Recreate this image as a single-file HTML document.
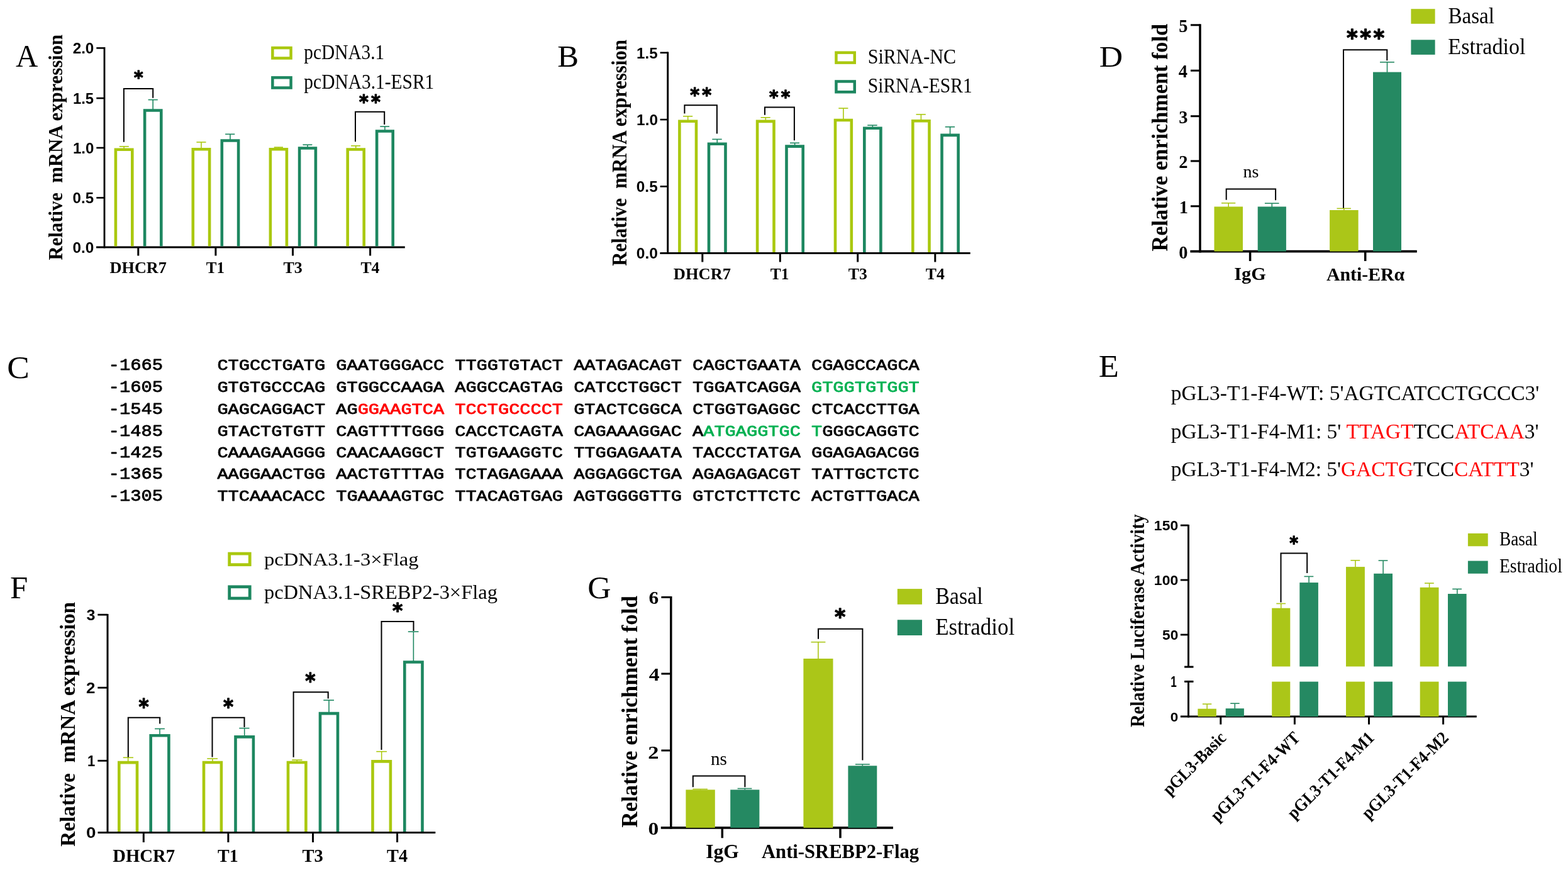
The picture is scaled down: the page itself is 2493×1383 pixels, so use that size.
<!DOCTYPE html>
<html><head><meta charset="utf-8"><title>Figure</title>
<style>html,body{margin:0;padding:0;background:#fff;width:2493px;height:1383px;overflow:hidden}svg{display:block}</style>
</head><body>
<svg width="2493" height="1383" viewBox="0 0 2493 1383">
<rect width="2493" height="1383" fill="#fff"/>
<text transform="translate(24.91,106.2) scale(0.9847,1)" font-family="&quot;Liberation Serif&quot;, serif" font-weight="normal" font-size="49.7" fill="#000">A</text>
<text transform="translate(99.2,413.54) rotate(-90) scale(0.9495,1)" font-family="&quot;Liberation Serif&quot;, serif" font-weight="bold" font-size="32.37" fill="#000" xml:space="preserve">Relative  mRNA expression</text>
<text transform="translate(115.65,84.96) scale(1.0096,1)" font-family="&quot;Liberation Sans&quot;, sans-serif" font-weight="bold" font-size="24.03" fill="#000">2.0</text>
<text transform="translate(115.91,164.66) scale(0.9784,1)" font-family="&quot;Liberation Sans&quot;, sans-serif" font-weight="bold" font-size="24.37" fill="#000">1.5</text>
<text transform="translate(115.9,243.56) scale(1.0021,1)" font-family="&quot;Liberation Sans&quot;, sans-serif" font-weight="bold" font-size="24.03" fill="#000">1.0</text>
<text transform="translate(115.54,322.96) scale(1.0039,1)" font-family="&quot;Liberation Sans&quot;, sans-serif" font-weight="bold" font-size="24.03" fill="#000">0.5</text>
<text transform="translate(115.53,401.66) scale(1.0134,1)" font-family="&quot;Liberation Sans&quot;, sans-serif" font-weight="bold" font-size="24.03" fill="#000">0.0</text>
<line x1="166" y1="75" x2="166" y2="394.5" stroke="#000" stroke-width="2.8" stroke-linecap="butt"/>
<line x1="153" y1="393" x2="643.8" y2="393" stroke="#000" stroke-width="3" stroke-linecap="butt"/>
<line x1="153.3" y1="76.4" x2="166" y2="76.4" stroke="#000" stroke-width="2.6" stroke-linecap="butt"/>
<line x1="153.3" y1="156.1" x2="166" y2="156.1" stroke="#000" stroke-width="2.6" stroke-linecap="butt"/>
<line x1="153.3" y1="235" x2="166" y2="235" stroke="#000" stroke-width="2.6" stroke-linecap="butt"/>
<line x1="153.3" y1="314.4" x2="166" y2="314.4" stroke="#000" stroke-width="2.6" stroke-linecap="butt"/>
<line x1="219.8" y1="393" x2="219.8" y2="406.5" stroke="#000" stroke-width="3" stroke-linecap="butt"/>
<line x1="342.9" y1="393" x2="342.9" y2="406.5" stroke="#000" stroke-width="3" stroke-linecap="butt"/>
<line x1="465.5" y1="393" x2="465.5" y2="406.5" stroke="#000" stroke-width="3" stroke-linecap="butt"/>
<line x1="588.6" y1="393" x2="588.6" y2="406.5" stroke="#000" stroke-width="3" stroke-linecap="butt"/>
<text transform="translate(174.54,434.2) scale(1.0053,1)" font-family="&quot;Liberation Serif&quot;, serif" font-weight="bold" font-size="26.11" fill="#000">DHCR7</text>
<text transform="translate(327.73,434.2) scale(0.9576,1)" font-family="&quot;Liberation Serif&quot;, serif" font-weight="bold" font-size="26.11" fill="#000">T1</text>
<text transform="translate(450.41,434.2) scale(1.0009,1)" font-family="&quot;Liberation Serif&quot;, serif" font-weight="bold" font-size="26.11" fill="#000">T3</text>
<text transform="translate(573.42,434.2) scale(0.9821,1)" font-family="&quot;Liberation Serif&quot;, serif" font-weight="bold" font-size="26.11" fill="#000">T4</text>
<line x1="197.1" y1="236.4" x2="197.1" y2="232.8" stroke="#AAC80F" stroke-width="1.6" stroke-linecap="butt"/>
<line x1="189.8" y1="232.8" x2="204.8" y2="232.8" stroke="#AAC80F" stroke-width="1.6" stroke-linecap="butt"/>
<path d="M183.9 391.5V237.7H210.3V391.5" stroke="#AAC80F" stroke-width="4.6" fill="none" stroke-linejoin="miter"/>
<line x1="243.2" y1="174.2" x2="243.2" y2="158.6" stroke="#1D8760" stroke-width="1.6" stroke-linecap="butt"/>
<line x1="235.6" y1="158.6" x2="250.8" y2="158.6" stroke="#1D8760" stroke-width="1.6" stroke-linecap="butt"/>
<path d="M230.1 391.5V175.5H256.3V391.5" stroke="#1D8760" stroke-width="4.6" fill="none" stroke-linejoin="miter"/>
<line x1="319.95" y1="236" x2="319.95" y2="226" stroke="#AAC80F" stroke-width="1.6" stroke-linecap="butt"/>
<line x1="312.4" y1="226" x2="327.5" y2="226" stroke="#AAC80F" stroke-width="1.6" stroke-linecap="butt"/>
<path d="M306.8 391.5V237.3H333.1V391.5" stroke="#AAC80F" stroke-width="4.6" fill="none" stroke-linejoin="miter"/>
<line x1="365.95" y1="222.2" x2="365.95" y2="213.3" stroke="#1D8760" stroke-width="1.6" stroke-linecap="butt"/>
<line x1="358.1" y1="213.3" x2="373.3" y2="213.3" stroke="#1D8760" stroke-width="1.6" stroke-linecap="butt"/>
<path d="M352.8 391.5V223.5H379.1V391.5" stroke="#1D8760" stroke-width="4.6" fill="none" stroke-linejoin="miter"/>
<line x1="442.9" y1="236" x2="442.9" y2="234.1" stroke="#AAC80F" stroke-width="1.6" stroke-linecap="butt"/>
<line x1="435.7" y1="234.1" x2="450" y2="234.1" stroke="#AAC80F" stroke-width="1.6" stroke-linecap="butt"/>
<path d="M429.9 391.5V237.3H455.9V391.5" stroke="#AAC80F" stroke-width="4.6" fill="none" stroke-linejoin="miter"/>
<line x1="489" y1="234.2" x2="489" y2="230.2" stroke="#1D8760" stroke-width="1.6" stroke-linecap="butt"/>
<line x1="481.4" y1="230.2" x2="496.4" y2="230.2" stroke="#1D8760" stroke-width="1.6" stroke-linecap="butt"/>
<path d="M476.1 391.5V235.5H501.9V391.5" stroke="#1D8760" stroke-width="4.6" fill="none" stroke-linejoin="miter"/>
<line x1="565.7" y1="236.2" x2="565.7" y2="231.8" stroke="#AAC80F" stroke-width="1.6" stroke-linecap="butt"/>
<line x1="558.1" y1="231.8" x2="573" y2="231.8" stroke="#AAC80F" stroke-width="1.6" stroke-linecap="butt"/>
<path d="M552.7 391.5V237.5H578.7V391.5" stroke="#AAC80F" stroke-width="4.6" fill="none" stroke-linejoin="miter"/>
<line x1="611.9" y1="207.2" x2="611.9" y2="201.1" stroke="#1D8760" stroke-width="1.6" stroke-linecap="butt"/>
<line x1="604.3" y1="201.1" x2="619.1" y2="201.1" stroke="#1D8760" stroke-width="1.6" stroke-linecap="butt"/>
<path d="M599.1 391.5V208.5H624.7V391.5" stroke="#1D8760" stroke-width="4.6" fill="none" stroke-linejoin="miter"/>
<path d="M196.9 225.8V140.9H243.2V155.8" stroke="#000" stroke-width="2" fill="none" stroke-linejoin="miter"/>
<text transform="translate(212.89,132.99) scale(1.0089,1)" font-family="&quot;DejaVu Sans&quot;, sans-serif" font-weight="bold" font-size="27.53" letter-spacing="0" stroke="#000" stroke-width="1.3" stroke-linejoin="round">*</text>
<path d="M565 225.3V177.8H611.2V197.9" stroke="#000" stroke-width="2" fill="none" stroke-linejoin="miter"/>
<text transform="translate(570.88,171.73) scale(0.9637,1)" font-family="&quot;DejaVu Sans&quot;, sans-serif" font-weight="bold" font-size="29.46" letter-spacing="4.51" stroke="#000" stroke-width="1.3" stroke-linejoin="round">**</text>
<rect x="433.35" y="76.05" width="29.2" height="16.4" fill="none" stroke="#AAC80F" stroke-width="4.5"/>
<rect x="433.35" y="123.35" width="29.2" height="16.2" fill="none" stroke="#1D8760" stroke-width="4.5"/>
<text transform="translate(483.36,93.7) scale(0.8855,1)" font-family="&quot;Liberation Serif&quot;, serif" font-weight="normal" font-size="33.13" fill="#000">pcDNA3.1</text>
<text transform="translate(483.36,141.1) scale(0.8891,1)" font-family="&quot;Liberation Serif&quot;, serif" font-weight="normal" font-size="33.13" fill="#000">pcDNA3.1-ESR1</text>
<text transform="translate(886.21,106.48) scale(1.0284,1)" font-family="&quot;Liberation Serif&quot;, serif" font-weight="normal" font-size="49.28" fill="#000">B</text>
<text transform="translate(996.1,422.84) rotate(-90) scale(0.9302,1)" font-family="&quot;Liberation Serif&quot;, serif" font-weight="bold" font-size="33.13" fill="#000" xml:space="preserve">Relative  mRNA expression</text>
<text transform="translate(1012.09,92.51) scale(0.9969,1)" font-family="&quot;Liberation Sans&quot;, sans-serif" font-weight="bold" font-size="24.23" fill="#000">1.5</text>
<text transform="translate(1012.08,198.81) scale(1.0210,1)" font-family="&quot;Liberation Sans&quot;, sans-serif" font-weight="bold" font-size="23.89" fill="#000">1.0</text>
<text transform="translate(1011.83,305.11) scale(1.0193,1)" font-family="&quot;Liberation Sans&quot;, sans-serif" font-weight="bold" font-size="23.89" fill="#000">0.5</text>
<text transform="translate(1011.82,411.11) scale(1.0290,1)" font-family="&quot;Liberation Sans&quot;, sans-serif" font-weight="bold" font-size="23.89" fill="#000">0.0</text>
<line x1="1061.7" y1="82.5" x2="1061.7" y2="404" stroke="#000" stroke-width="3" stroke-linecap="butt"/>
<line x1="1049.4" y1="402.6" x2="1542.7" y2="402.6" stroke="#000" stroke-width="3" stroke-linecap="butt"/>
<line x1="1049.6" y1="83.8" x2="1061.7" y2="83.8" stroke="#000" stroke-width="2.6" stroke-linecap="butt"/>
<line x1="1049.6" y1="190.1" x2="1061.7" y2="190.1" stroke="#000" stroke-width="2.6" stroke-linecap="butt"/>
<line x1="1049.6" y1="296.4" x2="1061.7" y2="296.4" stroke="#000" stroke-width="2.6" stroke-linecap="butt"/>
<line x1="1116.8" y1="402.6" x2="1116.8" y2="416.5" stroke="#000" stroke-width="3" stroke-linecap="butt"/>
<line x1="1240.3" y1="402.6" x2="1240.3" y2="416.5" stroke="#000" stroke-width="3" stroke-linecap="butt"/>
<line x1="1363.7" y1="402.6" x2="1363.7" y2="416.5" stroke="#000" stroke-width="3" stroke-linecap="butt"/>
<line x1="1486.8" y1="402.6" x2="1486.8" y2="416.5" stroke="#000" stroke-width="3" stroke-linecap="butt"/>
<text transform="translate(1070.84,443.8) scale(1.0143,1)" font-family="&quot;Liberation Serif&quot;, serif" font-weight="bold" font-size="26.11" fill="#000">DHCR7</text>
<text transform="translate(1224.82,443.8) scale(0.9750,1)" font-family="&quot;Liberation Serif&quot;, serif" font-weight="bold" font-size="26.11" fill="#000">T1</text>
<text transform="translate(1348.71,443.8) scale(0.9872,1)" font-family="&quot;Liberation Serif&quot;, serif" font-weight="bold" font-size="26.11" fill="#000">T3</text>
<text transform="translate(1471.81,443.8) scale(0.9854,1)" font-family="&quot;Liberation Serif&quot;, serif" font-weight="bold" font-size="26.11" fill="#000">T4</text>
<line x1="1093.7" y1="191.4" x2="1093.7" y2="184.8" stroke="#AAC80F" stroke-width="1.6" stroke-linecap="butt"/>
<line x1="1086" y1="184.8" x2="1101.2" y2="184.8" stroke="#AAC80F" stroke-width="1.6" stroke-linecap="butt"/>
<path d="M1080.4 401V192.7H1107V401" stroke="#AAC80F" stroke-width="4.6" fill="none" stroke-linejoin="miter"/>
<line x1="1140.25" y1="227.5" x2="1140.25" y2="221.4" stroke="#1D8760" stroke-width="1.6" stroke-linecap="butt"/>
<line x1="1132.3" y1="221.4" x2="1147.7" y2="221.4" stroke="#1D8760" stroke-width="1.6" stroke-linecap="butt"/>
<path d="M1127 401V228.8H1153.5V401" stroke="#1D8760" stroke-width="4.6" fill="none" stroke-linejoin="miter"/>
<line x1="1217.3" y1="191.6" x2="1217.3" y2="186.8" stroke="#AAC80F" stroke-width="1.6" stroke-linecap="butt"/>
<line x1="1209.5" y1="186.8" x2="1224.7" y2="186.8" stroke="#AAC80F" stroke-width="1.6" stroke-linecap="butt"/>
<path d="M1204.1 401V192.9H1230.5V401" stroke="#AAC80F" stroke-width="4.6" fill="none" stroke-linejoin="miter"/>
<line x1="1263.6" y1="231.3" x2="1263.6" y2="227.3" stroke="#1D8760" stroke-width="1.6" stroke-linecap="butt"/>
<line x1="1256" y1="227.3" x2="1271" y2="227.3" stroke="#1D8760" stroke-width="1.6" stroke-linecap="butt"/>
<path d="M1250.5 401V232.6H1276.7V401" stroke="#1D8760" stroke-width="4.6" fill="none" stroke-linejoin="miter"/>
<line x1="1340.9" y1="189.7" x2="1340.9" y2="172.1" stroke="#AAC80F" stroke-width="1.6" stroke-linecap="butt"/>
<line x1="1333.3" y1="172.1" x2="1348.4" y2="172.1" stroke="#AAC80F" stroke-width="1.6" stroke-linecap="butt"/>
<path d="M1328 401V191H1353.8V401" stroke="#AAC80F" stroke-width="4.6" fill="none" stroke-linejoin="miter"/>
<line x1="1387.35" y1="202.4" x2="1387.35" y2="199.1" stroke="#1D8760" stroke-width="1.6" stroke-linecap="butt"/>
<line x1="1379.2" y1="199.1" x2="1394.7" y2="199.1" stroke="#1D8760" stroke-width="1.6" stroke-linecap="butt"/>
<path d="M1374.3 401V203.7H1400.4V401" stroke="#1D8760" stroke-width="4.6" fill="none" stroke-linejoin="miter"/>
<line x1="1464.4" y1="190.9" x2="1464.4" y2="181.9" stroke="#AAC80F" stroke-width="1.6" stroke-linecap="butt"/>
<line x1="1456.5" y1="181.9" x2="1471.8" y2="181.9" stroke="#AAC80F" stroke-width="1.6" stroke-linecap="butt"/>
<path d="M1451.3 401V192.2H1477.5V401" stroke="#AAC80F" stroke-width="4.6" fill="none" stroke-linejoin="miter"/>
<line x1="1510.55" y1="213.6" x2="1510.55" y2="201.7" stroke="#1D8760" stroke-width="1.6" stroke-linecap="butt"/>
<line x1="1502.7" y1="201.7" x2="1518.1" y2="201.7" stroke="#1D8760" stroke-width="1.6" stroke-linecap="butt"/>
<path d="M1497.5 401V214.9H1523.6V401" stroke="#1D8760" stroke-width="4.6" fill="none" stroke-linejoin="miter"/>
<path d="M1088.4 180.5V167.3H1139.9V212.6" stroke="#000" stroke-width="2" fill="none" stroke-linejoin="miter"/>
<text transform="translate(1097.18,160.73) scale(0.9637,1)" font-family="&quot;DejaVu Sans&quot;, sans-serif" font-weight="bold" font-size="29.46" letter-spacing="4.41" stroke="#000" stroke-width="1.3" stroke-linejoin="round">**</text>
<path d="M1216 182.8V170.6H1262.9V223.3" stroke="#000" stroke-width="2" fill="none" stroke-linejoin="miter"/>
<text transform="translate(1222.99,163.55) scale(0.9637,1)" font-family="&quot;DejaVu Sans&quot;, sans-serif" font-weight="bold" font-size="28.82" letter-spacing="4.33" stroke="#000" stroke-width="1.3" stroke-linejoin="round">**</text>
<rect x="1329.45" y="83.65" width="29.3" height="16" fill="none" stroke="#AAC80F" stroke-width="4.5"/>
<rect x="1329.45" y="129.45" width="29.3" height="16.8" fill="none" stroke="#1D8760" stroke-width="4.5"/>
<text transform="translate(1379.67,101.27) scale(0.9152,1)" font-family="&quot;Liberation Serif&quot;, serif" font-weight="normal" font-size="32.86" fill="#000">SiRNA-NC</text>
<text transform="translate(1379.7,147.47) scale(0.9051,1)" font-family="&quot;Liberation Serif&quot;, serif" font-weight="normal" font-size="32.71" fill="#000">SiRNA-ESR1</text>
<text transform="translate(1747.68,105.78) scale(1.0907,1)" font-family="&quot;Liberation Serif&quot;, serif" font-weight="normal" font-size="47.45" fill="#000">D</text>
<text transform="translate(1856.3,399.4) rotate(-90) scale(0.9599,1)" font-family="&quot;Liberation Serif&quot;, serif" font-weight="bold" font-size="35.68" fill="#000" xml:space="preserve">Relative enrichment fold</text>
<text transform="translate(1874.22,50.71) scale(0.9871,1)" font-family="&quot;Liberation Serif&quot;, serif" font-weight="bold" font-size="28.87" fill="#000">5</text>
<text transform="translate(1873.65,123.4) scale(0.9760,1)" font-family="&quot;Liberation Serif&quot;, serif" font-weight="bold" font-size="29.2" fill="#000">4</text>
<text transform="translate(1874.15,195.61) scale(0.9982,1)" font-family="&quot;Liberation Serif&quot;, serif" font-weight="bold" font-size="28.55" fill="#000">3</text>
<text transform="translate(1874.36,267.2) scale(0.9834,1)" font-family="&quot;Liberation Serif&quot;, serif" font-weight="bold" font-size="28.98" fill="#000">2</text>
<text transform="translate(1874.65,339) scale(0.9797,1)" font-family="&quot;Liberation Serif&quot;, serif" font-weight="bold" font-size="29.09" fill="#000">1</text>
<text transform="translate(1874.22,410.62) scale(1.0020,1)" font-family="&quot;Liberation Serif&quot;, serif" font-weight="bold" font-size="28.44" fill="#000">0</text>
<line x1="1908" y1="38.2" x2="1908" y2="401.4" stroke="#000" stroke-width="3.5" stroke-linecap="butt"/>
<line x1="1892.4" y1="399.6" x2="2252.8" y2="399.6" stroke="#000" stroke-width="3.6" stroke-linecap="butt"/>
<line x1="1893" y1="39.8" x2="1908" y2="39.8" stroke="#000" stroke-width="3" stroke-linecap="butt"/>
<line x1="1893" y1="112.2" x2="1908" y2="112.2" stroke="#000" stroke-width="3" stroke-linecap="butt"/>
<line x1="1893" y1="184.7" x2="1908" y2="184.7" stroke="#000" stroke-width="3" stroke-linecap="butt"/>
<line x1="1893" y1="256" x2="1908" y2="256" stroke="#000" stroke-width="3" stroke-linecap="butt"/>
<line x1="1893" y1="327.8" x2="1908" y2="327.8" stroke="#000" stroke-width="3" stroke-linecap="butt"/>
<line x1="1987.6" y1="399.6" x2="1987.6" y2="415" stroke="#000" stroke-width="3.5" stroke-linecap="butt"/>
<line x1="2170.7" y1="399.6" x2="2170.7" y2="415" stroke="#000" stroke-width="3.5" stroke-linecap="butt"/>
<text transform="translate(1962.32,445.3) scale(1.0647,1)" font-family="&quot;Liberation Serif&quot;, serif" font-weight="bold" font-size="28.4" fill="#000">IgG</text>
<text transform="translate(2109,446.3) scale(1.0488,1)" font-family="&quot;Liberation Serif&quot;, serif" font-weight="bold" font-size="28.4" fill="#000">Anti-ERα</text>
<rect x="1930.5" y="328.5" width="45.5" height="71.1" fill="#ABC618"/>
<rect x="1999.7" y="328.5" width="45.2" height="71.1" fill="#258962"/>
<rect x="2114.1" y="334" width="45.5" height="65.6" fill="#ABC618"/>
<rect x="2183" y="114.6" width="45" height="285" fill="#258962"/>
<line x1="1953.2" y1="329" x2="1953.2" y2="322.8" stroke="#ABC618" stroke-width="1.6" stroke-linecap="butt"/>
<line x1="1942" y1="322.8" x2="1964.3" y2="322.8" stroke="#ABC618" stroke-width="1.6" stroke-linecap="butt"/>
<line x1="2022.3" y1="329" x2="2022.3" y2="323.2" stroke="#258962" stroke-width="1.6" stroke-linecap="butt"/>
<line x1="2010.9" y1="323.2" x2="2033.6" y2="323.2" stroke="#258962" stroke-width="1.6" stroke-linecap="butt"/>
<line x1="2136.8" y1="334.5" x2="2136.8" y2="331.4" stroke="#ABC618" stroke-width="1.6" stroke-linecap="butt"/>
<line x1="2125.5" y1="331.4" x2="2147.9" y2="331.4" stroke="#ABC618" stroke-width="1.6" stroke-linecap="butt"/>
<line x1="2205.5" y1="115" x2="2205.5" y2="98.8" stroke="#258962" stroke-width="1.6" stroke-linecap="butt"/>
<line x1="2194" y1="98.8" x2="2216.9" y2="98.8" stroke="#258962" stroke-width="1.6" stroke-linecap="butt"/>
<path d="M1949.7 317.7V300.5H2028.1V318.3" stroke="#000" stroke-width="2" fill="none" stroke-linejoin="miter"/>
<text transform="translate(1976.47,282.32) scale(0.9981,1)" font-family="&quot;Liberation Serif&quot;, serif" font-weight="normal" font-size="28.12" fill="#000">ns</text>
<path d="M2136 330.7V79.2H2205.3V96.3" stroke="#000" stroke-width="2" fill="none" stroke-linejoin="miter"/>
<text transform="translate(2140.97,72.38) scale(0.9637,1)" font-family="&quot;DejaVu Sans&quot;, sans-serif" font-weight="bold" font-size="35.05" letter-spacing="3.77" stroke="#000" stroke-width="1.3" stroke-linejoin="round">***</text>
<rect x="2243.4" y="14.2" width="38.2" height="23.6" fill="#ABC618"/>
<rect x="2243.4" y="63.3" width="38.2" height="23.6" fill="#258962"/>
<text transform="translate(2302.39,36.9) scale(0.9359,1)" font-family="&quot;Liberation Serif&quot;, serif" font-weight="normal" font-size="35.42" fill="#000">Basal</text>
<text transform="translate(2302.36,86.1) scale(0.9347,1)" font-family="&quot;Liberation Serif&quot;, serif" font-weight="normal" font-size="36.49" fill="#000">Estradiol</text>
<text transform="translate(11.27,600.6) scale(1.0569,1)" font-family="&quot;Liberation Serif&quot;, serif" font-weight="normal" font-size="50.41" fill="#000">C</text>
<text transform="translate(172.62,587.75) scale(1.1464,1)" font-family="&quot;Liberation Mono&quot;, monospace" font-weight="normal" font-size="25.15" fill="#000" stroke="#000" stroke-width="0.8" stroke-linejoin="round">-1665</text>
<text transform="translate(345.42,587.7) scale(1.1552,1)" font-family="&quot;Liberation Mono&quot;, monospace" font-weight="normal" font-size="24.79" xml:space="preserve" stroke-width="0.8" stroke-linejoin="round"><tspan fill="#000" stroke="#000">CTGCCTGATG GAATGGGACC TTGGTGTACT AATAGACAGT CAGCTGAATA CGAGCCAGCA</tspan></text>
<text transform="translate(172.62,623.05) scale(1.1464,1)" font-family="&quot;Liberation Mono&quot;, monospace" font-weight="normal" font-size="25.15" fill="#000" stroke="#000" stroke-width="0.8" stroke-linejoin="round">-1605</text>
<text transform="translate(345.42,623) scale(1.1552,1)" font-family="&quot;Liberation Mono&quot;, monospace" font-weight="normal" font-size="24.79" xml:space="preserve" stroke-width="0.8" stroke-linejoin="round"><tspan fill="#000" stroke="#000">GTGTGCCCAG GTGGCCAAGA AGGCCAGTAG CATCCTGGCT TGGATCAGGA </tspan><tspan fill="#00B050" stroke="#00B050">GTGGTGTGGT</tspan></text>
<text transform="translate(172.62,657.94) scale(1.1253,1)" font-family="&quot;Liberation Mono&quot;, monospace" font-weight="normal" font-size="25.62" fill="#000" stroke="#000" stroke-width="0.8" stroke-linejoin="round">-1545</text>
<text transform="translate(345.42,657.9) scale(1.1552,1)" font-family="&quot;Liberation Mono&quot;, monospace" font-weight="normal" font-size="24.79" xml:space="preserve" stroke-width="0.8" stroke-linejoin="round"><tspan fill="#000" stroke="#000">GAGCAGGACT AG</tspan><tspan fill="#FF0000" stroke="#FF0000">GGAAGTCA TCCTGCCCCT</tspan><tspan fill="#000" stroke="#000"> GTACTCGGCA CTGGTGAGGC CTCACCTTGA</tspan></text>
<text transform="translate(172.62,692.75) scale(1.1464,1)" font-family="&quot;Liberation Mono&quot;, monospace" font-weight="normal" font-size="25.15" fill="#000" stroke="#000" stroke-width="0.8" stroke-linejoin="round">-1485</text>
<text transform="translate(345.42,692.7) scale(1.1552,1)" font-family="&quot;Liberation Mono&quot;, monospace" font-weight="normal" font-size="24.79" xml:space="preserve" stroke-width="0.8" stroke-linejoin="round"><tspan fill="#000" stroke="#000">GTACTGTGTT CAGTTTTGGG CACCTCAGTA CAGAAAGGAC A</tspan><tspan fill="#00B050" stroke="#00B050">ATGAGGTGC T</tspan><tspan fill="#000" stroke="#000">GGGCAGGTC</tspan></text>
<text transform="translate(172.62,726.65) scale(1.1464,1)" font-family="&quot;Liberation Mono&quot;, monospace" font-weight="normal" font-size="25.15" fill="#000" stroke="#000" stroke-width="0.8" stroke-linejoin="round">-1425</text>
<text transform="translate(345.42,726.6) scale(1.1552,1)" font-family="&quot;Liberation Mono&quot;, monospace" font-weight="normal" font-size="24.79" xml:space="preserve" stroke-width="0.8" stroke-linejoin="round"><tspan fill="#000" stroke="#000">CAAAGAAGGG CAACAAGGCT TGTGAAGGTC TTGGAGAATA TACCCTATGA GGAGAGACGG</tspan></text>
<text transform="translate(172.62,761.25) scale(1.1464,1)" font-family="&quot;Liberation Mono&quot;, monospace" font-weight="normal" font-size="25.15" fill="#000" stroke="#000" stroke-width="0.8" stroke-linejoin="round">-1365</text>
<text transform="translate(345.42,761.2) scale(1.1552,1)" font-family="&quot;Liberation Mono&quot;, monospace" font-weight="normal" font-size="24.79" xml:space="preserve" stroke-width="0.8" stroke-linejoin="round"><tspan fill="#000" stroke="#000">AAGGAACTGG AACTGTTTAG TCTAGAGAAA AGGAGGCTGA AGAGAGACGT TATTGCTCTC</tspan></text>
<text transform="translate(172.62,795.65) scale(1.1464,1)" font-family="&quot;Liberation Mono&quot;, monospace" font-weight="normal" font-size="25.15" fill="#000" stroke="#000" stroke-width="0.8" stroke-linejoin="round">-1305</text>
<text transform="translate(345.42,795.6) scale(1.1552,1)" font-family="&quot;Liberation Mono&quot;, monospace" font-weight="normal" font-size="24.79" xml:space="preserve" stroke-width="0.8" stroke-linejoin="round"><tspan fill="#000" stroke="#000">TTCAAACACC TGAAAAGTGC TTACAGTGAG AGTGGGGTTG GTCTCTTCTC ACTGTTGACA</tspan></text>
<text transform="translate(1746.65,599) scale(1.0565,1)" font-family="&quot;Liberation Serif&quot;, serif" font-weight="normal" font-size="49.77" fill="#000">E</text>
<text transform="translate(1861.8,636.3) scale(1.0053,1)" font-family="&quot;Liberation Serif&quot;, serif" font-weight="normal" font-size="33.28" xml:space="preserve"><tspan fill="#000">pGL3-T1-F4-WT: 5&#x27;AGTCATCCTGCCC3&#x27;</tspan></text>
<text transform="translate(1861.8,696.8) scale(0.9773,1)" font-family="&quot;Liberation Serif&quot;, serif" font-weight="normal" font-size="34.2" xml:space="preserve"><tspan fill="#000">pGL3-T1-F4-M1: 5&#x27; </tspan><tspan fill="#FF0000">TTAGT</tspan><tspan fill="#000">TCC</tspan><tspan fill="#FF0000">ATCAA</tspan><tspan fill="#000">3&#x27;</tspan></text>
<text transform="translate(1861.8,757.3) scale(0.9724,1)" font-family="&quot;Liberation Serif&quot;, serif" font-weight="normal" font-size="34.35" xml:space="preserve"><tspan fill="#000">pGL3-T1-F4-M2: 5&#x27;</tspan><tspan fill="#FF0000">GACTG</tspan><tspan fill="#000">TCC</tspan><tspan fill="#FF0000">CATTT</tspan><tspan fill="#000">3&#x27;</tspan></text>
<text transform="translate(1819.2,1156.1) rotate(-90) scale(0.9240,1)" font-family="&quot;Liberation Serif&quot;, serif" font-weight="bold" font-size="30.99" fill="#000" xml:space="preserve">Relative Luciferase Activity</text>
<text transform="translate(1834.86,843.49) scale(1.0778,1)" font-family="&quot;Liberation Sans&quot;, sans-serif" font-weight="bold" font-size="21.34" fill="#000">150</text>
<text transform="translate(1834.86,930.48) scale(1.0433,1)" font-family="&quot;Liberation Sans&quot;, sans-serif" font-weight="bold" font-size="22.05" fill="#000">100</text>
<text transform="translate(1848.02,1016.59) scale(1.0632,1)" font-family="&quot;Liberation Sans&quot;, sans-serif" font-weight="bold" font-size="21.34" fill="#000">50</text>
<text transform="translate(1861.22,1091.5) scale(0.7301,1)" font-family="&quot;Liberation Sans&quot;, sans-serif" font-weight="bold" font-size="23.56" fill="#000">1</text>
<text transform="translate(1860.7,1146.99) scale(1.0768,1)" font-family="&quot;Liberation Sans&quot;, sans-serif" font-weight="bold" font-size="20.92" fill="#000">0</text>
<line x1="1889.5" y1="834" x2="1889.5" y2="1060.1" stroke="#000" stroke-width="3" stroke-linecap="butt"/>
<line x1="1889.5" y1="1083.4" x2="1889.5" y2="1140.5" stroke="#000" stroke-width="3" stroke-linecap="butt"/>
<line x1="1883.1" y1="1060.1" x2="1897.5" y2="1060.1" stroke="#000" stroke-width="3" stroke-linecap="butt"/>
<line x1="1883.1" y1="1083.4" x2="1897.5" y2="1083.4" stroke="#000" stroke-width="3" stroke-linecap="butt"/>
<line x1="1876.9" y1="835.1" x2="1889.5" y2="835.1" stroke="#000" stroke-width="2.8" stroke-linecap="butt"/>
<line x1="1876.9" y1="922" x2="1889.5" y2="922" stroke="#000" stroke-width="2.8" stroke-linecap="butt"/>
<line x1="1876.9" y1="1009" x2="1889.5" y2="1009" stroke="#000" stroke-width="2.8" stroke-linecap="butt"/>
<line x1="1876.9" y1="1139.1" x2="2347.8" y2="1139.1" stroke="#000" stroke-width="3" stroke-linecap="butt"/>
<line x1="1940.8" y1="1139.1" x2="1940.8" y2="1151.6" stroke="#000" stroke-width="3" stroke-linecap="butt"/>
<line x1="2058.4" y1="1139.1" x2="2058.4" y2="1151.6" stroke="#000" stroke-width="3" stroke-linecap="butt"/>
<line x1="2176.5" y1="1139.1" x2="2176.5" y2="1151.6" stroke="#000" stroke-width="3" stroke-linecap="butt"/>
<line x1="2294.6" y1="1139.1" x2="2294.6" y2="1151.6" stroke="#000" stroke-width="3" stroke-linecap="butt"/>
<rect x="1904.4" y="1126.7" width="29.5" height="12.4" fill="#ABC618"/>
<line x1="1919.15" y1="1127.2" x2="1919.15" y2="1119.2" stroke="#ABC618" stroke-width="1.6" stroke-linecap="butt"/>
<line x1="1911.9" y1="1119.2" x2="1926.3" y2="1119.2" stroke="#ABC618" stroke-width="1.6" stroke-linecap="butt"/>
<rect x="1948.7" y="1126.2" width="29.2" height="12.9" fill="#258962"/>
<line x1="1963.3" y1="1126.7" x2="1963.3" y2="1118.2" stroke="#258962" stroke-width="1.6" stroke-linecap="butt"/>
<line x1="1956.2" y1="1118.2" x2="1970.7" y2="1118.2" stroke="#258962" stroke-width="1.6" stroke-linecap="butt"/>
<rect x="2022.2" y="966.7" width="29.1" height="92.8" fill="#ABC618"/>
<rect x="2022.2" y="1083.6" width="29.1" height="55.5" fill="#ABC618"/>
<line x1="2036.75" y1="967.2" x2="2036.75" y2="959.5" stroke="#ABC618" stroke-width="1.6" stroke-linecap="butt"/>
<line x1="2029.3" y1="959.5" x2="2044.1" y2="959.5" stroke="#ABC618" stroke-width="1.6" stroke-linecap="butt"/>
<rect x="2066.3" y="926.1" width="29.6" height="133.4" fill="#258962"/>
<rect x="2066.3" y="1083.6" width="29.6" height="55.5" fill="#258962"/>
<line x1="2081.1" y1="926.6" x2="2081.1" y2="916.4" stroke="#258962" stroke-width="1.6" stroke-linecap="butt"/>
<line x1="2073.5" y1="916.4" x2="2088.3" y2="916.4" stroke="#258962" stroke-width="1.6" stroke-linecap="butt"/>
<rect x="2140" y="901.1" width="29.9" height="158.4" fill="#ABC618"/>
<rect x="2140" y="1083.6" width="29.9" height="55.5" fill="#ABC618"/>
<line x1="2154.95" y1="901.6" x2="2154.95" y2="890.8" stroke="#ABC618" stroke-width="1.6" stroke-linecap="butt"/>
<line x1="2147.4" y1="890.8" x2="2162.2" y2="890.8" stroke="#ABC618" stroke-width="1.6" stroke-linecap="butt"/>
<rect x="2184.2" y="911.8" width="29.8" height="147.7" fill="#258962"/>
<rect x="2184.2" y="1083.6" width="29.8" height="55.5" fill="#258962"/>
<line x1="2199.1" y1="912.3" x2="2199.1" y2="891.1" stroke="#258962" stroke-width="1.6" stroke-linecap="butt"/>
<line x1="2191.6" y1="891.1" x2="2206.4" y2="891.1" stroke="#258962" stroke-width="1.6" stroke-linecap="butt"/>
<rect x="2257.7" y="933.8" width="29.8" height="125.7" fill="#ABC618"/>
<rect x="2257.7" y="1083.6" width="29.8" height="55.5" fill="#ABC618"/>
<line x1="2272.6" y1="934.3" x2="2272.6" y2="927.1" stroke="#ABC618" stroke-width="1.6" stroke-linecap="butt"/>
<line x1="2265" y1="927.1" x2="2279.8" y2="927.1" stroke="#ABC618" stroke-width="1.6" stroke-linecap="butt"/>
<rect x="2302" y="944" width="29.6" height="115.5" fill="#258962"/>
<rect x="2302" y="1083.6" width="29.6" height="55.5" fill="#258962"/>
<line x1="2316.8" y1="944.5" x2="2316.8" y2="936.4" stroke="#258962" stroke-width="1.6" stroke-linecap="butt"/>
<line x1="2309.2" y1="936.4" x2="2324" y2="936.4" stroke="#258962" stroke-width="1.6" stroke-linecap="butt"/>
<path d="M2036.5 957.6V879.6H2078.2V911.1" stroke="#000" stroke-width="2" fill="none" stroke-linejoin="miter"/>
<text transform="translate(2050.22,873.41) scale(0.9066,1)" font-family="&quot;DejaVu Sans&quot;, sans-serif" font-weight="bold" font-size="29.03" letter-spacing="0" stroke="#000" stroke-width="1.3" stroke-linejoin="round">*</text>
<rect x="2333.9" y="847.9" width="31.8" height="20.4" fill="#ABC618"/>
<rect x="2333.9" y="891.6" width="31.8" height="20.2" fill="#258962"/>
<text transform="translate(2383.95,866.9) scale(0.8669,1)" font-family="&quot;Liberation Serif&quot;, serif" font-weight="normal" font-size="31.45" fill="#000">Basal</text>
<text transform="translate(2383.94,910.2) scale(0.8939,1)" font-family="&quot;Liberation Serif&quot;, serif" font-weight="normal" font-size="30.99" fill="#000">Estradiol</text>
<text transform="translate(1950.8,1174.5) rotate(-45) scale(0.9000,1)" text-anchor="end" font-family="&quot;Liberation Serif&quot;, serif" font-weight="bold" font-size="28">pGL3-Basic</text>
<text transform="translate(2068.4,1174.5) rotate(-45) scale(0.9000,1)" text-anchor="end" font-family="&quot;Liberation Serif&quot;, serif" font-weight="bold" font-size="28">pGL3-T1-F4-WT</text>
<text transform="translate(2186.5,1174.5) rotate(-45) scale(0.9000,1)" text-anchor="end" font-family="&quot;Liberation Serif&quot;, serif" font-weight="bold" font-size="28">pGL3-T1-F4-M1</text>
<text transform="translate(2304.6,1174.5) rotate(-45) scale(0.9000,1)" text-anchor="end" font-family="&quot;Liberation Serif&quot;, serif" font-weight="bold" font-size="28">pGL3-T1-F4-M2</text>
<text transform="translate(16,951.1) scale(1.0116,1)" font-family="&quot;Liberation Serif&quot;, serif" font-weight="normal" font-size="50.38" fill="#000">F</text>
<text transform="translate(119.2,1345.78) rotate(-90) scale(0.9745,1)" font-family="&quot;Liberation Serif&quot;, serif" font-weight="bold" font-size="34.2" fill="#000" xml:space="preserve">Relative  mRNA expression</text>
<text transform="translate(137.43,985.7) scale(1.0494,1)" font-family="&quot;Liberation Sans&quot;, sans-serif" font-weight="bold" font-size="23.94" fill="#000">3</text>
<text transform="translate(137.09,1102) scale(1.0629,1)" font-family="&quot;Liberation Sans&quot;, sans-serif" font-weight="bold" font-size="24.37" fill="#000">2</text>
<text transform="translate(138.93,1218.1) scale(0.8871,1)" font-family="&quot;Liberation Sans&quot;, sans-serif" font-weight="bold" font-size="24.73" fill="#000">1</text>
<text transform="translate(136.89,1332.26) scale(1.1565,1)" font-family="&quot;Liberation Sans&quot;, sans-serif" font-weight="bold" font-size="24.03" fill="#000">0</text>
<line x1="171" y1="976" x2="171" y2="1325" stroke="#000" stroke-width="3" stroke-linecap="butt"/>
<line x1="155.5" y1="1323.6" x2="692.3" y2="1323.6" stroke="#000" stroke-width="3" stroke-linecap="butt"/>
<line x1="155.3" y1="977.2" x2="171" y2="977.2" stroke="#000" stroke-width="2.8" stroke-linecap="butt"/>
<line x1="155.3" y1="1093.2" x2="171" y2="1093.2" stroke="#000" stroke-width="2.8" stroke-linecap="butt"/>
<line x1="155.3" y1="1209.3" x2="171" y2="1209.3" stroke="#000" stroke-width="2.8" stroke-linecap="butt"/>
<line x1="228.3" y1="1323.6" x2="228.3" y2="1339" stroke="#000" stroke-width="3" stroke-linecap="butt"/>
<line x1="362.9" y1="1323.6" x2="362.9" y2="1339" stroke="#000" stroke-width="3" stroke-linecap="butt"/>
<line x1="497.5" y1="1323.6" x2="497.5" y2="1339" stroke="#000" stroke-width="3" stroke-linecap="butt"/>
<line x1="631.6" y1="1323.6" x2="631.6" y2="1339" stroke="#000" stroke-width="3" stroke-linecap="butt"/>
<text transform="translate(179.3,1369.5) scale(1.0004,1)" font-family="&quot;Liberation Serif&quot;, serif" font-weight="bold" font-size="28.7" fill="#000">DHCR7</text>
<text transform="translate(345.98,1369.5) scale(0.9755,1)" font-family="&quot;Liberation Serif&quot;, serif" font-weight="bold" font-size="28.7" fill="#000">T1</text>
<text transform="translate(480.47,1369.5) scale(0.9977,1)" font-family="&quot;Liberation Serif&quot;, serif" font-weight="bold" font-size="28.7" fill="#000">T3</text>
<text transform="translate(615.08,1369.5) scale(0.9823,1)" font-family="&quot;Liberation Serif&quot;, serif" font-weight="bold" font-size="28.7" fill="#000">T4</text>
<line x1="203.65" y1="1210.8" x2="203.65" y2="1204.3" stroke="#AAC80F" stroke-width="1.6" stroke-linecap="butt"/>
<line x1="195.7" y1="1204.3" x2="212" y2="1204.3" stroke="#AAC80F" stroke-width="1.6" stroke-linecap="butt"/>
<path d="M189.3 1322V1212.1H218V1322" stroke="#AAC80F" stroke-width="4.6" fill="none" stroke-linejoin="miter"/>
<line x1="254.05" y1="1168" x2="254.05" y2="1158.5" stroke="#1D8760" stroke-width="1.6" stroke-linecap="butt"/>
<line x1="246.1" y1="1158.5" x2="261.9" y2="1158.5" stroke="#1D8760" stroke-width="1.6" stroke-linecap="butt"/>
<path d="M239.7 1322V1169.3H268.4V1322" stroke="#1D8760" stroke-width="4.6" fill="none" stroke-linejoin="miter"/>
<line x1="337.95" y1="1210.7" x2="337.95" y2="1206" stroke="#AAC80F" stroke-width="1.6" stroke-linecap="butt"/>
<line x1="329.3" y1="1206" x2="346" y2="1206" stroke="#AAC80F" stroke-width="1.6" stroke-linecap="butt"/>
<path d="M324 1322V1212H351.9V1322" stroke="#AAC80F" stroke-width="4.6" fill="none" stroke-linejoin="miter"/>
<line x1="388.7" y1="1170.1" x2="388.7" y2="1157.6" stroke="#1D8760" stroke-width="1.6" stroke-linecap="butt"/>
<line x1="380.3" y1="1157.6" x2="396.5" y2="1157.6" stroke="#1D8760" stroke-width="1.6" stroke-linecap="butt"/>
<path d="M374.5 1322V1171.4H402.9V1322" stroke="#1D8760" stroke-width="4.6" fill="none" stroke-linejoin="miter"/>
<line x1="472.2" y1="1210.7" x2="472.2" y2="1208.1" stroke="#AAC80F" stroke-width="1.6" stroke-linecap="butt"/>
<line x1="464.2" y1="1208.1" x2="480.5" y2="1208.1" stroke="#AAC80F" stroke-width="1.6" stroke-linecap="butt"/>
<path d="M458 1322V1212H486.4V1322" stroke="#AAC80F" stroke-width="4.6" fill="none" stroke-linejoin="miter"/>
<line x1="523" y1="1132.8" x2="523" y2="1113.1" stroke="#1D8760" stroke-width="1.6" stroke-linecap="butt"/>
<line x1="514.3" y1="1113.1" x2="531" y2="1113.1" stroke="#1D8760" stroke-width="1.6" stroke-linecap="butt"/>
<path d="M509 1322V1134.1H537V1322" stroke="#1D8760" stroke-width="4.6" fill="none" stroke-linejoin="miter"/>
<line x1="606.7" y1="1209.1" x2="606.7" y2="1194.7" stroke="#AAC80F" stroke-width="1.6" stroke-linecap="butt"/>
<line x1="598.3" y1="1194.7" x2="615" y2="1194.7" stroke="#AAC80F" stroke-width="1.6" stroke-linecap="butt"/>
<path d="M592.5 1322V1210.4H620.9V1322" stroke="#AAC80F" stroke-width="4.6" fill="none" stroke-linejoin="miter"/>
<line x1="657.4" y1="1051.2" x2="657.4" y2="1004.2" stroke="#1D8760" stroke-width="1.6" stroke-linecap="butt"/>
<line x1="648.8" y1="1004.2" x2="665.5" y2="1004.2" stroke="#1D8760" stroke-width="1.6" stroke-linecap="butt"/>
<path d="M643.3 1322V1052.5H671.5V1322" stroke="#1D8760" stroke-width="4.6" fill="none" stroke-linejoin="miter"/>
<path d="M203.8 1203.8V1140.8H254.2V1150.6" stroke="#000" stroke-width="2" fill="none" stroke-linejoin="miter"/>
<text transform="translate(220.43,1134.76) scale(0.9205,1)" font-family="&quot;DejaVu Sans&quot;, sans-serif" font-weight="bold" font-size="33.55" letter-spacing="0" stroke="#000" stroke-width="1.3" stroke-linejoin="round">*</text>
<path d="M337.5 1203.4V1140.7H388.5V1156.1" stroke="#000" stroke-width="2" fill="none" stroke-linejoin="miter"/>
<text transform="translate(354.94,1134.76) scale(0.9143,1)" font-family="&quot;DejaVu Sans&quot;, sans-serif" font-weight="bold" font-size="33.55" letter-spacing="0" stroke="#000" stroke-width="1.3" stroke-linejoin="round">*</text>
<path d="M466.6 1203.8V1100.2H521.7V1110.5" stroke="#000" stroke-width="2" fill="none" stroke-linejoin="miter"/>
<text transform="translate(485.33,1094.3) scale(0.9035,1)" font-family="&quot;DejaVu Sans&quot;, sans-serif" font-weight="bold" font-size="34.41" letter-spacing="0" stroke="#000" stroke-width="1.3" stroke-linejoin="round">*</text>
<path d="M606.5 1191.9V988H657.5V1003.1" stroke="#000" stroke-width="2" fill="none" stroke-linejoin="miter"/>
<text transform="translate(624.03,980.7) scale(0.9970,1)" font-family="&quot;DejaVu Sans&quot;, sans-serif" font-weight="bold" font-size="31.18" letter-spacing="0" stroke="#000" stroke-width="1.3" stroke-linejoin="round">*</text>
<rect x="364.7" y="880.1" width="32.5" height="17.6" fill="none" stroke="#AAC80F" stroke-width="4.8"/>
<rect x="364.7" y="932.8" width="32.5" height="18.3" fill="none" stroke="#1D8760" stroke-width="4.8"/>
<text transform="translate(419.91,898.8) scale(1.0789,1)" font-family="&quot;Liberation Serif&quot;, serif" font-weight="normal" font-size="30.23" fill="#000">pcDNA3.1-3×Flag</text>
<text transform="translate(419.91,952.1) scale(1.0230,1)" font-family="&quot;Liberation Serif&quot;, serif" font-weight="normal" font-size="31.76" fill="#000">pcDNA3.1-SREBP2-3×Flag</text>
<text transform="translate(934.23,951.09) scale(1.0194,1)" font-family="&quot;Liberation Serif&quot;, serif" font-weight="normal" font-size="50.71" fill="#000">G</text>
<text transform="translate(1013.1,1315.61) rotate(-90) scale(0.9827,1)" font-family="&quot;Liberation Serif&quot;, serif" font-weight="bold" font-size="35.54" fill="#000" xml:space="preserve">Relative enrichment fold</text>
<text transform="translate(1031.6,959.61) scale(1.0861,1)" font-family="&quot;Liberation Serif&quot;, serif" font-weight="bold" font-size="29" fill="#000">6</text>
<text transform="translate(1031.78,1082.2) scale(1.1052,1)" font-family="&quot;Liberation Serif&quot;, serif" font-weight="bold" font-size="30.42" fill="#000">4</text>
<text transform="translate(1030.34,1205.6) scale(1.1952,1)" font-family="&quot;Liberation Serif&quot;, serif" font-weight="bold" font-size="28.83" fill="#000">2</text>
<text transform="translate(1030.54,1327.01) scale(1.1768,1)" font-family="&quot;Liberation Serif&quot;, serif" font-weight="bold" font-size="28.59" fill="#000">0</text>
<line x1="1066.8" y1="948" x2="1066.8" y2="1317.6" stroke="#000" stroke-width="3.5" stroke-linecap="butt"/>
<line x1="1050.8" y1="1315.9" x2="1419.9" y2="1315.9" stroke="#000" stroke-width="3.6" stroke-linecap="butt"/>
<line x1="1051.4" y1="949.4" x2="1066.8" y2="949.4" stroke="#000" stroke-width="3" stroke-linecap="butt"/>
<line x1="1051.4" y1="1071" x2="1066.8" y2="1071" stroke="#000" stroke-width="3" stroke-linecap="butt"/>
<line x1="1051.4" y1="1193" x2="1066.8" y2="1193" stroke="#000" stroke-width="3" stroke-linecap="butt"/>
<line x1="1148.3" y1="1315.9" x2="1148.3" y2="1332.2" stroke="#000" stroke-width="3.5" stroke-linecap="butt"/>
<line x1="1336" y1="1315.9" x2="1336" y2="1332.2" stroke="#000" stroke-width="3.5" stroke-linecap="butt"/>
<text transform="translate(1122.17,1364.3) scale(0.9932,1)" font-family="&quot;Liberation Serif&quot;, serif" font-weight="bold" font-size="31.76" fill="#000">IgG</text>
<text transform="translate(1210.99,1364.2) scale(0.9555,1)" font-family="&quot;Liberation Serif&quot;, serif" font-weight="bold" font-size="32.06" fill="#000">Anti-SREBP2-Flag</text>
<rect x="1090.4" y="1255.4" width="46.4" height="60.5" fill="#ABC618"/>
<rect x="1161.2" y="1255.4" width="46.2" height="60.5" fill="#258962"/>
<rect x="1277.4" y="1047" width="47.1" height="268.9" fill="#ABC618"/>
<rect x="1348.4" y="1217.3" width="45.9" height="98.6" fill="#258962"/>
<line x1="1113.6" y1="1255.6" x2="1113.6" y2="1254.5" stroke="#ABC618" stroke-width="1.6" stroke-linecap="butt"/>
<line x1="1101.3" y1="1254.5" x2="1125" y2="1254.5" stroke="#ABC618" stroke-width="1.6" stroke-linecap="butt"/>
<line x1="1184.3" y1="1255.6" x2="1184.3" y2="1253.5" stroke="#258962" stroke-width="1.6" stroke-linecap="butt"/>
<line x1="1172.6" y1="1253.5" x2="1195.4" y2="1253.5" stroke="#258962" stroke-width="1.6" stroke-linecap="butt"/>
<line x1="1300.9" y1="1047.5" x2="1300.9" y2="1020.7" stroke="#ABC618" stroke-width="1.6" stroke-linecap="butt"/>
<line x1="1289.5" y1="1020.7" x2="1312.4" y2="1020.7" stroke="#ABC618" stroke-width="1.6" stroke-linecap="butt"/>
<line x1="1371.3" y1="1217.5" x2="1371.3" y2="1215" stroke="#258962" stroke-width="1.6" stroke-linecap="butt"/>
<line x1="1359.9" y1="1215" x2="1382.8" y2="1215" stroke="#258962" stroke-width="1.6" stroke-linecap="butt"/>
<path d="M1101.8 1251.3V1233.6H1184.4V1251.3" stroke="#000" stroke-width="2" fill="none" stroke-linejoin="miter"/>
<text transform="translate(1130.04,1216) scale(0.9652,1)" font-family="&quot;Liberation Serif&quot;, serif" font-weight="normal" font-size="30.21" fill="#000">ns</text>
<path d="M1301 1015.8V999.8H1371.4V1208.5" stroke="#000" stroke-width="2" fill="none" stroke-linejoin="miter"/>
<text transform="translate(1326.99,991.84) scale(0.9698,1)" font-family="&quot;DejaVu Sans&quot;, sans-serif" font-weight="bold" font-size="34.19" letter-spacing="0" stroke="#000" stroke-width="1.3" stroke-linejoin="round">*</text>
<rect x="1426.8" y="936.1" width="39.2" height="24.7" fill="#ABC618"/>
<rect x="1426.8" y="985.3" width="39.2" height="24.7" fill="#258962"/>
<text transform="translate(1487.17,959.7) scale(0.8867,1)" font-family="&quot;Liberation Serif&quot;, serif" font-weight="normal" font-size="38.32" fill="#000">Basal</text>
<text transform="translate(1487.14,1008.7) scale(0.9260,1)" font-family="&quot;Liberation Serif&quot;, serif" font-weight="normal" font-size="37.71" fill="#000">Estradiol</text>
</svg>
</body></html>
